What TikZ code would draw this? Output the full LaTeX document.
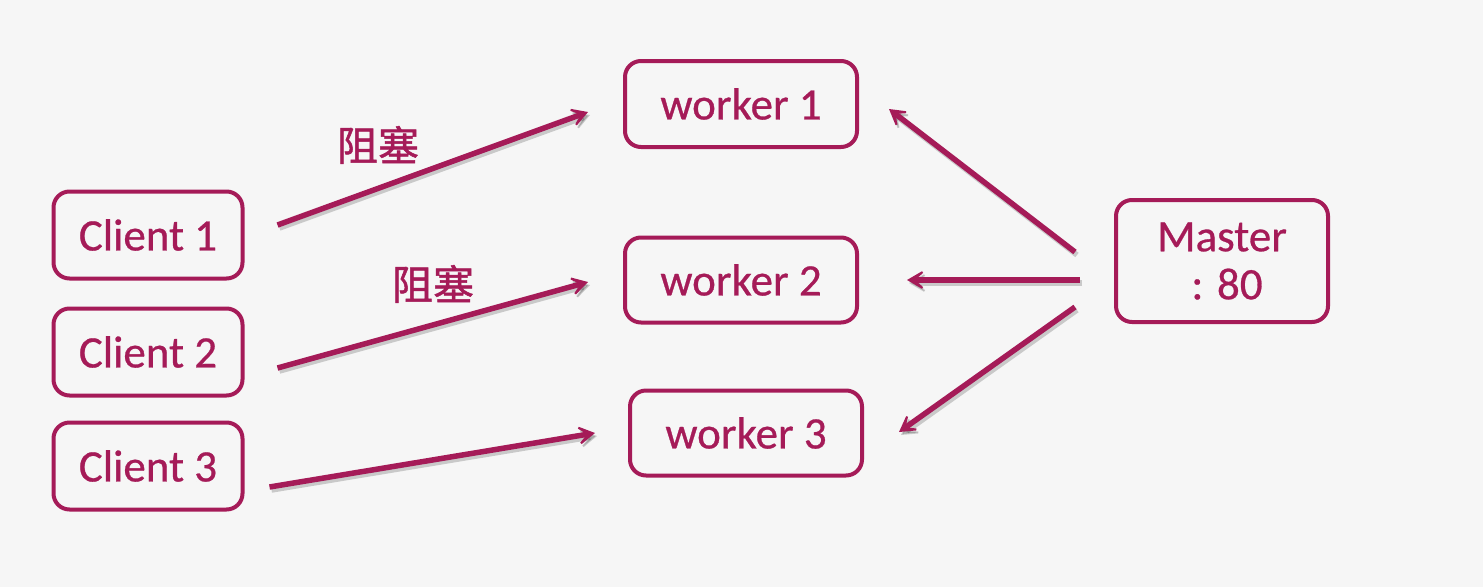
\documentclass[tikz,border=0pt]{standalone}
\usepackage{fontspec}
\setmainfont[FakeBold=0.6]{Carlito}
\newfontfamily\cjk[FakeBold=1.2]{Noto Sans CJK SC}
\usetikzlibrary{arrows.meta,calc}
\definecolor{mag}{RGB}{165,27,88}
\definecolor{bg}{RGB}{246,246,246}
\tikzset{
  box/.style={draw=mag, line width=4pt, rounded corners=16pt, text=mag,
    minimum width=189pt, minimum height=87pt, inner sep=0pt,
    font=\fontsize{45}{48}\selectfont},
  arr/.style={draw=mag, line width=5.5pt,
    -{Stealth[length=24pt,width=28pt,inset=16pt]},
    preaction={draw=black, opacity=0.18, line width=5.5pt,
      -{Stealth[length=24pt,width=28pt,inset=16pt]},
      transform canvas={shift={(2pt,-3pt)}}}},
  lbl/.style={text=mag, font=\cjk\fontsize{41}{44}\selectfont, inner sep=0pt}
}
\begin{document}
\begin{tikzpicture}[x=1pt,y=-1pt]
\fill[bg] (0,0) rectangle (1483,587);
\useasboundingbox (0,0) rectangle (1483,587);
\node[box] (c1) at (148,235) {Client 1};
\node[box] (c2) at (148,352) {Client 2};
\node[box] (c3) at (148,466) {Client 3};
\node[box, minimum width=232pt, minimum height=86pt] (w1) at (741,104) {worker 1};
\node[box, minimum width=232pt, minimum height=85pt] (w2) at (741,280) {worker 2};
\node[box, minimum width=232pt, minimum height=85pt] (w3) at (746,433) {worker 3};
\node[box, minimum width=212pt, minimum height=122pt, align=center] (m) at (1222,261) {Master\\\hspace*{10pt}: 80};
\draw[arr] ($(c1.east)+(33,-10)$) -- ($(w1.west)+(-35,8)$);
\draw[arr] ($(c2.east)+(33,16)$) -- ($(w2.west)+(-35,2)$);
\draw[arr] ($(c3.east)+(25,21)$) -- ($(w3.west)+(-33,0)$);
\draw[arr] ($(m.west)+(-39,-9)$) -- ($(w1.east)+(30,5)$);
\draw[arr] ($(m.west)+(-34,19)$) -- ($(w2.east)+(48,0)$);
\draw[arr] ($(m.west)+(-39,46)$) -- ($(w3.east)+(35,-1)$);
\node[lbl] (l1) at (378,145) {阻塞};
\node[lbl] (l2) at (433,284) {阻塞};
\end{tikzpicture}
\end{document}
